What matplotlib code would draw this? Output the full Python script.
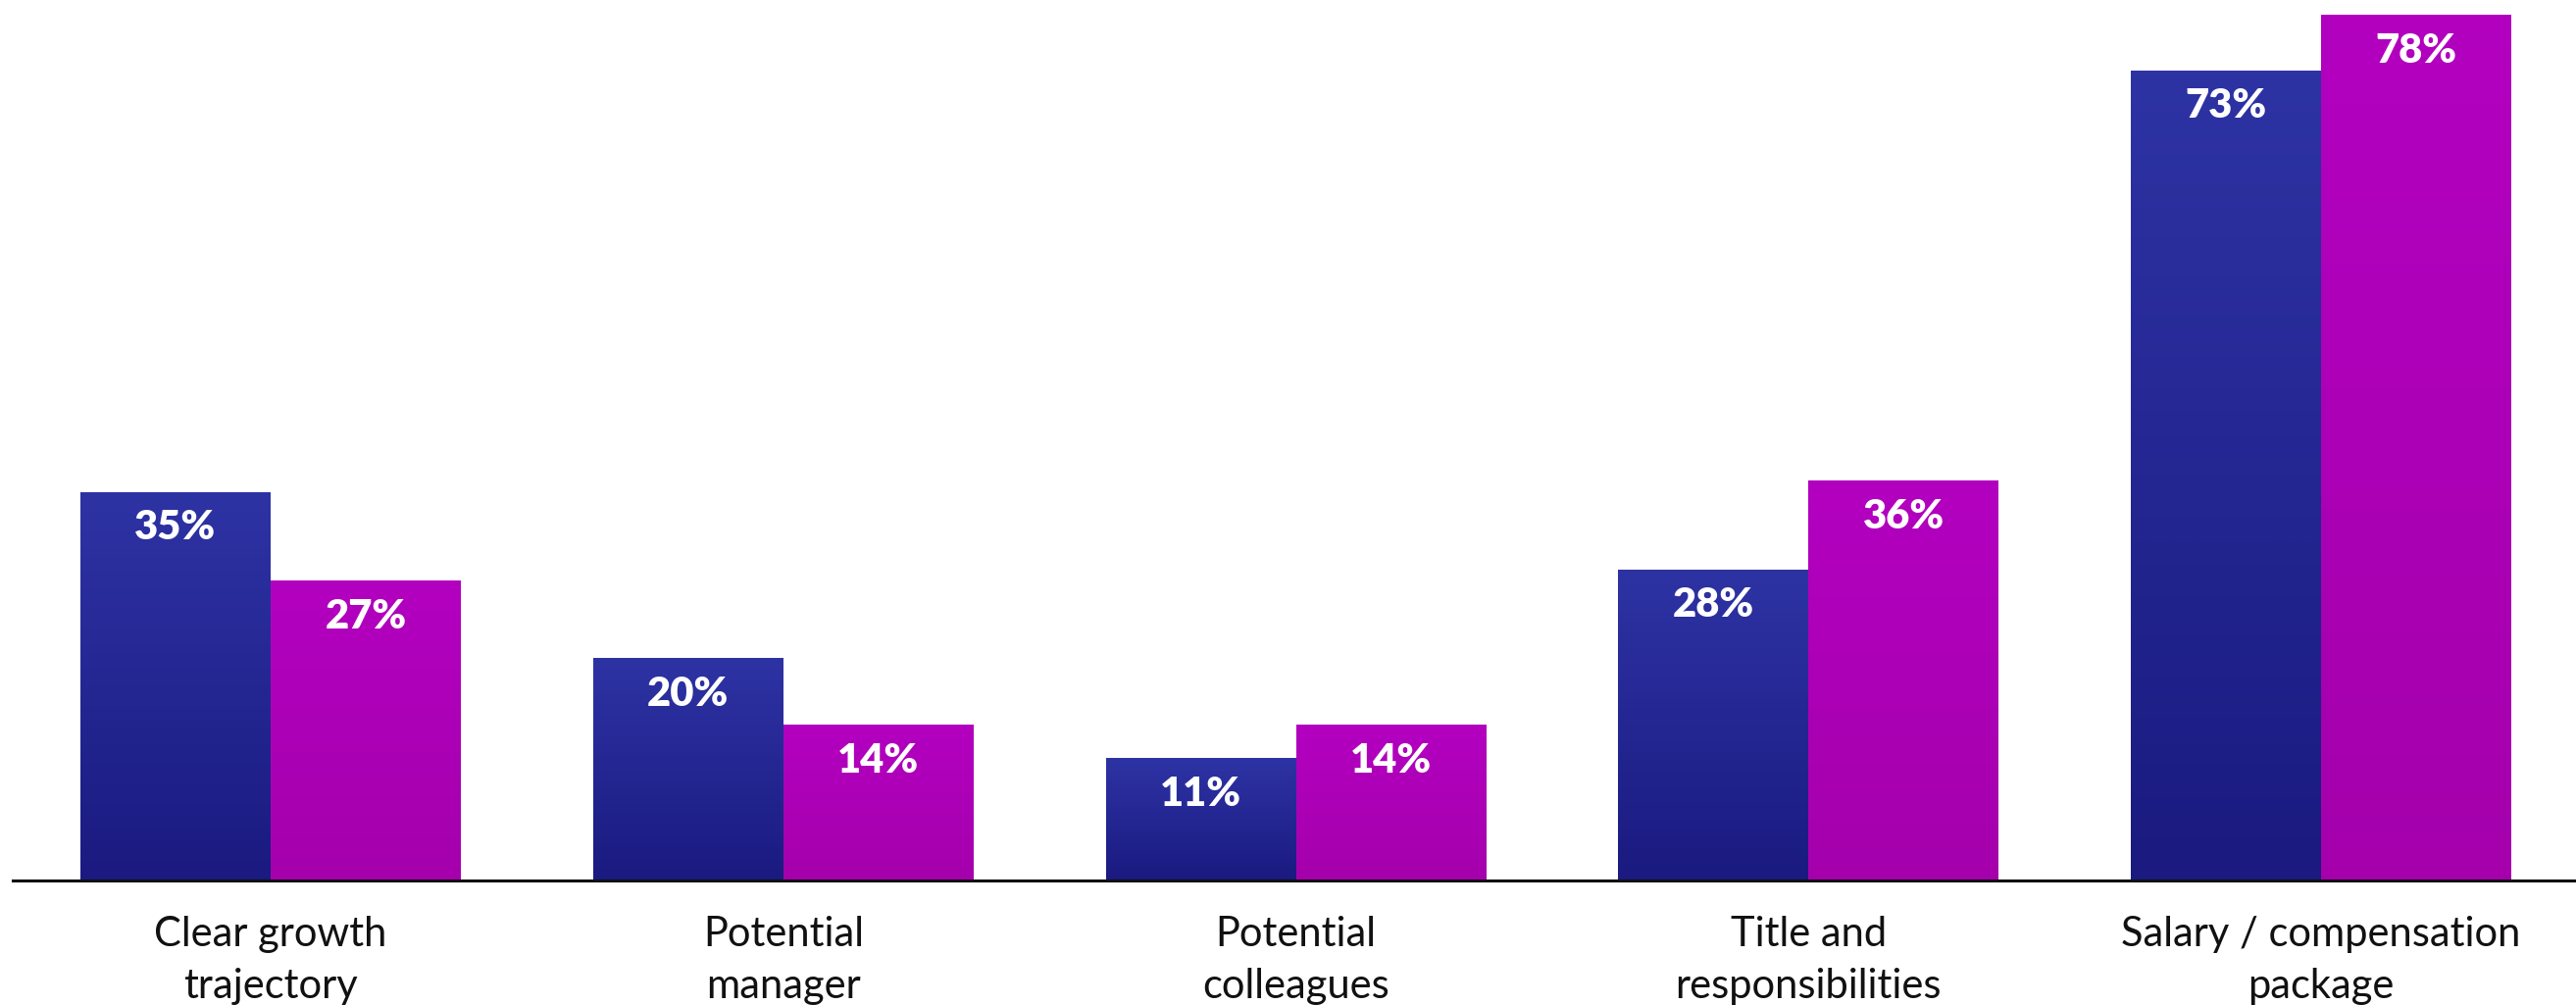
import numpy as np
import matplotlib.pyplot as plt
from matplotlib.colors import LinearSegmentedColormap

categories = ['Clear growth\ntrajectory', 'Potential\nmanager', 'Potential\ncolleagues',
              'Title and\nresponsibilities', 'Salary / compensation\npackage']
series_a = [35, 20, 11, 28, 73]
series_b = [27, 14, 14, 36, 78]

# gradient colours, top -> bottom
blue_grad = ['#2E33A4', '#1A1A80']
magenta_grad = ['#B300C0', '#A500AC']

plt.rcParams['font.family'] = ['Lato', 'DejaVu Sans']

fig = plt.figure(figsize=(26.27, 10.25), dpi=100)
ax = fig.add_axes([13 / 2627, 127 / 1025, 1 - 13 / 2627, 898 / 1025])

x = np.arange(len(categories))
w = 0.371
bars_a = ax.bar(x - w / 2, series_a, width=w, color='none', zorder=2)
bars_b = ax.bar(x + w / 2, series_b, width=w, color='none', zorder=2)


def paint(bars, grad):
    cmap = LinearSegmentedColormap.from_list('g', grad[::-1])
    ramp = np.linspace(0, 1, 256).reshape(-1, 1)
    for b in bars:
        x0, y0 = b.get_x(), b.get_y()
        x1, y1 = x0 + b.get_width(), y0 + b.get_height()
        ax.imshow(ramp, cmap=cmap, extent=[x0, x1, y0, y1], origin='lower',
                  aspect='auto', interpolation='bicubic', zorder=1)
        ax.annotate(f'{b.get_height():.0f}%', (x0 + b.get_width() / 2, y1),
                    xytext=(0, -26), textcoords='offset points',
                    ha='center', va='center', color='white',
                    fontsize=30, fontweight='heavy', zorder=3)


paint(bars_a, blue_grad)
paint(bars_b, magenta_grad)

ax.set_xlim(-0.503, 4.497)
ax.set_ylim(0, 79.4)
ax.set_xticks(x)
ax.set_xticklabels(categories, fontsize=30, color='#111111', linespacing=1.48)
ax.tick_params(axis='x', length=0, pad=26)
ax.set_yticks([])
for s in ['top', 'right', 'left']:
    ax.spines[s].set_visible(False)
ax.spines['bottom'].set_linewidth(2.2)
ax.spines['bottom'].set_color('#111111')

fig.savefig('out.png', dpi=100)
